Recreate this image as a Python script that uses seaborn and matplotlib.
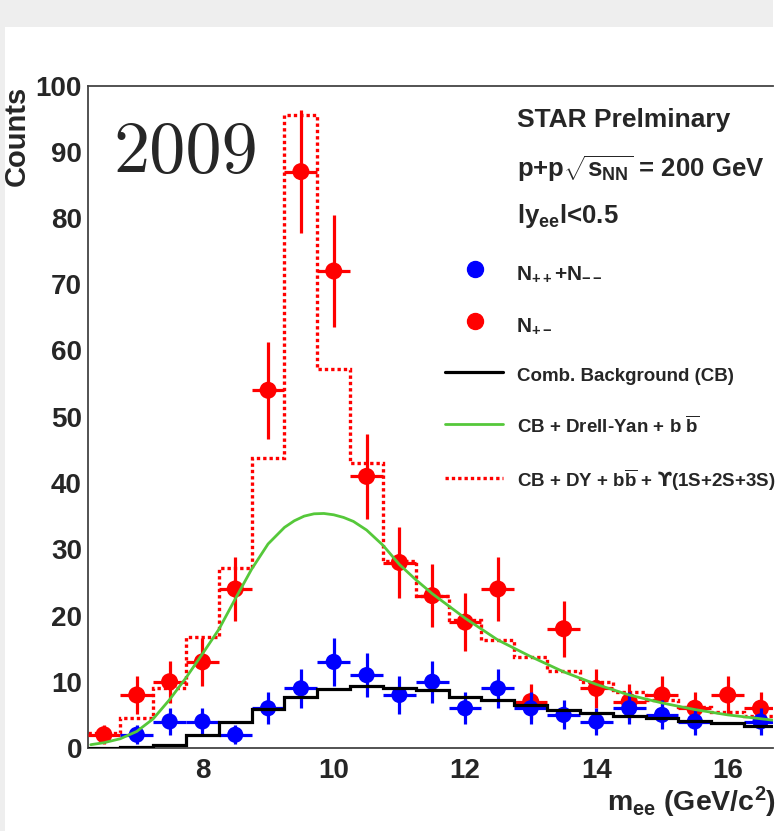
import numpy as np
import matplotlib
matplotlib.use("Agg")
import matplotlib.pyplot as plt
from matplotlib.lines import Line2D
from matplotlib.patches import Rectangle
import seaborn as sns

# ---------------- data ----------------
bin_edges = np.arange(6.25, 16.76, 0.5)

# N+- (unlike sign)
red_x = [6.5, 7.0, 7.5, 8.0, 8.5, 9.0, 9.5, 10.0, 10.5, 11.0, 11.5,
         12.0, 12.5, 13.0, 13.5, 14.0, 14.5, 15.0, 15.5, 16.0, 16.5]
red_y = [2, 8, 10, 13, 24, 54, 87, 72, 41, 28, 23,
         19, 24, 7, 18, 9, 7, 8, 6, 8, 6]
red_err = [1.4, 2.8, 3.2, 3.6, 4.9, 7.3, 9.3, 8.5, 6.4, 5.3, 4.8,
           4.4, 4.9, 2.6, 4.2, 3.0, 2.6, 2.8, 2.4, 2.8, 2.4]

# N++ + N-- (like sign)
blue_x = [7.0, 7.5, 8.0, 8.5, 9.0, 9.5, 10.0, 10.5, 11.0, 11.5, 12.0,
          12.5, 13.0, 13.5, 14.0, 14.5, 15.0, 15.5, 16.5]
blue_y = [2, 4, 4, 2, 6, 9, 13, 11, 8, 10, 6,
          9, 6, 5, 4, 6, 5, 4, 4]
blue_err = [1.4, 2.0, 2.0, 1.4, 2.4, 3.0, 3.6, 3.3, 2.8, 3.2, 2.4,
            3.0, 2.4, 2.2, 2.0, 2.4, 2.2, 2.0, 2.0]

# Combinatorial background histogram (per 0.5 bin)
cb_vals = [0.0, 0.15, 0.5, 2.0, 3.9, 5.9, 7.7, 8.9, 9.35, 9.1, 8.7,
           7.7, 7.2, 6.5, 5.8, 5.3, 4.8, 4.5, 4.1, 3.7, 3.3]

# CB + DY + bb + Upsilon histogram
full_vals = [2.2, 4.5, 9.0, 16.8, 27.1, 43.8, 95.5, 57.2, 43.0, 28.2, 23.0,
             19.3, 16.3, 13.8, 11.6, 9.9, 8.4, 7.2, 6.2, 5.5, 4.9]

# CB + Drell-Yan + bb smooth curve
green_x = [6.3, 6.5, 6.75, 7.0, 7.25, 7.5, 7.75, 8.0, 8.25, 8.5, 8.75,
           9.0, 9.25, 9.4, 9.55, 9.7, 9.85, 10.0, 10.15, 10.3, 10.5, 10.75,
           11.0, 11.25, 11.5, 12.0, 12.5, 13.0, 13.5, 14.0, 14.5, 15.0,
           15.5, 16.0, 16.69]
green_y = [0.5, 0.8, 1.4, 2.5, 4.4, 7.3, 10.6, 14.2, 17.9, 22.5, 27.0,
           30.8, 33.3, 34.3, 35.0, 35.35, 35.4, 35.2, 34.8, 34.2, 32.9, 30.6,
           27.7, 25.4, 23.3, 19.6, 16.3, 13.8, 11.5, 9.6, 8.0, 6.8,
           5.8, 5.0, 4.2]

x_ticks = [8, 10, 12, 14, 16]
y_ticks = [0, 10, 20, 30, 40, 50, 60, 70, 80, 90, 100]

# ---------------- style ----------------
sns.set_style("white")
plt.rcParams['font.family'] = ['Liberation Sans', 'DejaVu Sans']
plt.rcParams['font.weight'] = 'bold'
plt.rcParams['mathtext.fontset'] = 'custom'
plt.rcParams['mathtext.rm'] = 'Liberation Sans:bold'
plt.rcParams['mathtext.bf'] = 'Liberation Sans:bold'
plt.rcParams['mathtext.it'] = 'Liberation Sans:bold:italic'
plt.rcParams['mathtext.sf'] = 'Liberation Sans:bold'
plt.rcParams['mathtext.cal'] = 'DejaVu Sans:bold'

W, H = 779, 831
fig = plt.figure(figsize=(W / 100, H / 100), dpi=100)
fig.patch.set_facecolor('#eeeeee')
fig.patches.append(Rectangle((5 / W, 0), 1, 1 - 27 / H, transform=fig.transFigure,
                             facecolor='white', edgecolor='none', zorder=-10))
fig.patches.append(Rectangle((773 / W, 0), 1, 1, transform=fig.transFigure,
                             facecolor='white', edgecolor='none', zorder=-10))

ax = fig.add_axes([87.5 / W, 1 - 748 / H, (773 - 87.5) / W, (748 - 85.5) / H])
ax.set_facecolor('white')

RED = '#ff0000'
BLUE = '#0000ff'
GREEN = '#55c83a'

# full model histogram (dotted red)
ax.stairs(full_vals, bin_edges, baseline=None, color=RED, lw=2.4,
          linestyle=(0, (1, 0.9)), zorder=2)

# data points
ax.errorbar(red_x, red_y, yerr=red_err, xerr=0.25, fmt='none', ecolor=RED,
            elinewidth=2.3, capsize=0, zorder=3)
sns.scatterplot(x=red_x, y=red_y, color=RED, s=150, edgecolor='none', ax=ax,
                zorder=3, legend=False)
ax.errorbar(blue_x, blue_y, yerr=blue_err, xerr=0.25, fmt='none', ecolor=BLUE,
            elinewidth=2.3, capsize=0, zorder=4)
sns.scatterplot(x=blue_x, y=blue_y, color=BLUE, s=135, edgecolor='none', ax=ax,
                zorder=4, legend=False)

# combinatorial background
ax.stairs(cb_vals, bin_edges, baseline=None, color='black', lw=2.3, zorder=5)

# CB + DY + bb
sns.lineplot(x=green_x, y=green_y, color=GREEN, lw=2.0, ax=ax, zorder=6)

# ---------------- axes ----------------
ax.set_xlim(6.25, 16.69)
ax.set_ylim(0, 100)
ax.set_xticks(x_ticks)
ax.set_yticks(y_ticks)
ax.set_xticks(np.arange(6.5, 16.7, 0.5), minor=True)
ax.set_yticks(np.arange(0, 101, 2), minor=True)
ax.tick_params(axis='both', which='both', direction='in', color='#555555',
               width=1.2, top=False, right=False)
ax.tick_params(axis='y', which='major', length=15, pad=4, labelsize=20)
ax.tick_params(axis='y', which='minor', length=8)
ax.tick_params(axis='x', which='major', length=14, pad=7, labelsize=20)
ax.tick_params(axis='x', which='minor', length=7)
for lab in ax.get_xticklabels() + ax.get_yticklabels():
    lab.set_fontweight('bold')
for s in ax.spines.values():
    s.set_color('#444444')
    s.set_linewidth(1.3)
ax.spines['right'].set_visible(False)
ax.set_xlabel('')
ax.set_ylabel('')

def fx(px):
    return px / W

def fy(py):
    return 1 - py / H

fig.text(fx(17), fy(86), 'Counts', rotation=90, ha='center', va='top',
         fontsize=21, fontweight='bold')
fig.text(fx(776), fy(811), r'm$_{\mathrm{ee}}$ (GeV/c$^{2}$)', ha='right',
         va='baseline', fontsize=20.5, fontweight='bold')
fig.text(fx(113), fy(172), '2009', family='cmr10', fontsize=52,
         fontweight='normal', ha='left', va='baseline')

# header text
fig.text(fx(517), fy(127), 'STAR Prelminary', fontsize=19, fontweight='bold',
         va='baseline')
fig.text(fx(517), fy(177), r'p+p$\sqrt{\mathrm{s}_{\mathrm{NN}}}$ = 200 GeV',
         fontsize=18.5, fontweight='bold', va='baseline')
fig.text(fx(517), fy(223), r'ly$_{\mathrm{ee}}$l<0.5', fontsize=18.5,
         fontweight='bold', va='baseline')

# legends
h_marker = [Line2D([], [], ls='none', marker='o', color=BLUE, markersize=11.5),
            Line2D([], [], ls='none', marker='o', color=RED, markersize=11.5)]
l_marker = [r'N$_{++}$+N$_{--}$', r'N$_{+-}$']
leg1 = fig.legend(h_marker, l_marker, loc='upper left',
                  bbox_to_anchor=(fx(458), fy(259)), frameon=False,
                  borderpad=0, borderaxespad=0, handlelength=1.6,
                  handletextpad=1.2, handleheight=1.6, labelspacing=1.23,
                  prop={'size': 15, 'weight': 'bold'})

h_lines = [Line2D([], [], color='black', lw=2.3),
           Line2D([], [], color=GREEN, lw=2.0),
           Line2D([], [], color=RED, lw=2.4, linestyle=(0, (1, 0.9)))]
l_lines = ['Comb. Background (CB)',
           r'CB + Drell-Yan + b $\overline{\mathrm{b}}$',
           r'CB + DY + b$\overline{\mathrm{b}}$ + $\mathcal{ϒ}$(1S+2S+3S)']
leg2 = fig.legend(h_lines, l_lines, loc='upper left',
                  bbox_to_anchor=(fx(445), fy(363)), frameon=False,
                  borderpad=0, borderaxespad=0, handlelength=3.1,
                  handletextpad=0.75, handleheight=1.6, labelspacing=1.5,
                  prop={'size': 13.5, 'weight': 'bold'})

fig.savefig('out.png', dpi=100, facecolor=fig.get_facecolor())
